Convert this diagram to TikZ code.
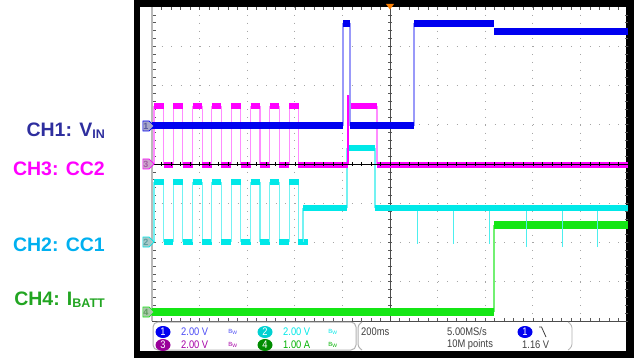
\documentclass[tikz,border=0pt]{standalone}
\usepackage{fontspec}
\setmainfont{Liberation Sans}
\newfontfamily\readfont[FakeStretch=0.85]{Liberation Sans}
\usetikzlibrary{shapes.geometric,shapes.symbols}
\definecolor{ch1}{RGB}{0,0,240}
\definecolor{ch2}{RGB}{0,232,232}
\definecolor{ch3}{RGB}{255,0,255}
\definecolor{ch4}{RGB}{20,230,20}
\definecolor{lab1}{RGB}{46,46,158}
\definecolor{lab2}{RGB}{0,176,240}
\definecolor{lab4}{RGB}{34,165,34}
\newcommand\lowidx[1]{\raisebox{-2pt}{\fontsize{12.5}{13}\selectfont #1}}
\tikzset{
  bandw/.style={line width=6.5pt},
  edgew/.style={line width=1.1pt},
  vdots/.style={gray!70,line width=0.8pt,dash pattern=on 0.8pt off 7.05pt},
  hdots/.style={gray!70,line width=0.8pt,dash pattern=on 0.8pt off 8.72pt},
  tick/.style={gray!70!black,line width=0.6pt},
  chlabel/.style={anchor=base east,inner sep=0,font=\fontsize{19.5}{20}\selectfont\bfseries},
  chtag/.style={signal,signal to=east,inner sep=0.6pt,minimum height=10pt,line width=0.7pt,font=\fontsize{9}{9}\selectfont\bfseries},
  chnum/.style={ellipse,minimum width=15pt,minimum height=12pt,inner sep=0,text=white,font=\readfont\fontsize{11}{11}\selectfont},
  readout/.style={anchor=west,inner sep=0,font=\readfont\fontsize{11}{11}\selectfont},
  bwicon/.style={inner sep=0,font=\fontsize{6}{6}\selectfont},
  panel/.style={gray!60,line width=1pt}
}
\begin{document}
\begin{tikzpicture}[x=1pt,y=-1pt,>=stealth]
\useasboundingbox (0,0) rectangle (634,358);
% screen
\fill[black] (134,0) rectangle (634,358);
\fill[white] (140,7) rectangle (626,351);
% grid
\foreach \i in {1,2,3,4,6,7,8,9}
  \draw[vdots] ({152+47.6*\i},7) -- ++(0,314);
\foreach \j in {1,2,3,5,6,7}
  \draw[hdots] (152,{7+39.25*\j}) -- ++(476,0);
\foreach \k in {1,...,49}{
  \draw[tick] ({152+9.52*\k},7) -- ++(0,3);
  \draw[tick] ({152+9.52*\k},321) -- ++(0,-3);
}
\foreach \k in {1,...,39}{
  \draw[tick] (388,{7+7.85*\k}) -- ++(4,0);
  \draw[tick] (153,{7+7.85*\k}) -- ++(3,0);
  \draw[tick] (628,{7+7.85*\k}) -- ++(-3,0);
}
\draw[gray!55,line width=2pt] (152,7) -- (152,321);
\draw[gray!60!black,line width=0.9pt] (390,7) -- (390,321);
\draw[gray!60!black,line width=0.9pt] (152,321) -- (628,321);
\fill[orange] (386,4) -- (394,4) -- (390,9.5) -- cycle;
% CH4
\draw[ch4!60,edgew] (494,312) -- (494,225);
\draw[ch4,line width=8.5pt] (152,312) -- (494,312) (494,225) -- (628,225);
% CH2
\foreach \n in {0,...,7}{
  \draw[ch2!55,edgew] ({154+19.3*\n},182) -- ++(0,60) ({163.5+19.3*\n},182) -- ++(0,60);
  \draw[ch2,bandw] ({154+19.3*\n},182) -- ++(9.5,0) ({163.5+19.3*\n},242) -- ++(9.8,0);
}
\draw[ch2!55,edgew] (303,242) -- (303,208) (347,208) -- (347,148) (375,148) -- (375,208);
\foreach \x/\d in {417/244,453/244,489/244,526/247,562/247,597/247}
  \draw[ch2!70,line width=0.9pt] (\x,208) -- (\x,\d);
\draw[ch2,bandw] (298,242) -- (303,242) (303,208) -- (347,208) (347,148) -- (375,148) (375,208) -- (628,208);
% CH3
\foreach \n in {0,...,7}{
  \draw[ch3!45,edgew] ({154+19.3*\n},106) -- ++(0,59) ({163.5+19.3*\n},106) -- ++(0,59);
  \draw[ch3,bandw] ({154+19.3*\n},106) -- ++(9.5,0) ({163.5+19.3*\n},165) -- ++(9.8,0);
}
\draw[ch3!45,edgew] (377,106) -- (377,165);
\draw[ch3,line width=2.5pt] (348,165) -- (348,95);
\draw[ch3,bandw] (298,165) -- (348,165) (349,106) -- (377,106) (377,165) -- (628,165);
\draw[black,line width=0.8pt] (152,164) -- (628,164);
\foreach \k in {1,...,49}
  \draw[black,line width=0.6pt] ({152+9.52*\k},162) -- ++(0,4);
% CH1
\draw[ch1!40,edgew] (343,126) -- (343,23) (350,23) -- (350,126) (414,126) -- (414,23);
\draw[ch1,line width=7pt] (152,126) -- (343,126) (343,23.5) -- (350,23.5) (350,126) -- (414,126) (414,23.5) -- (494,23.5) (494,31.5) -- (628,31.5);
% channel tags
\foreach \y/\c/\n in {126/ch1/1,164/ch3/3,242/ch2/2,312/ch4/4}
  \node[chtag,draw=\c,fill=\c!25!gray!55,text=\c!30!gray] (tag\n) at (146,\y) {\n};
% labels
\node[chlabel,text=lab1] (lab1) at (105,137) {CH1: V\lowidx{IN}};
\node[chlabel,text=ch3] (lab3) at (105,176) {CH3: CC2};
\node[chlabel,text=lab2] (lab2) at (105,251) {CH2: CC1};
\node[chlabel,text=lab4] (lab4) at (105,305) {CH4: I\lowidx{BATT}};
% readout
\draw[panel,rounded corners=5pt] (153,322) rectangle (356,350);
\draw[panel,rounded corners=3pt] (362,322) -- (358,325) -- (358,347) -- (362,350);
\draw[panel,line width=0.8pt,rounded corners=3pt] (568,322) -- (572,325) -- (572,347) -- (568,350);
\node[chnum,fill=ch1] (n1) at (163,332) {1};
\node[chnum,fill=ch3!60!black] (n3) at (163,345) {3};
\node[chnum,fill=ch2!90!black] (n2) at (265,332) {2};
\node[chnum,fill=green!55!black] (n4) at (265,345) {4};
\node[readout,text=ch1!70] (v1) at (181,332) {2.00 V};
\node[readout,text=ch3!65!black] (v3) at (181,345) {2.00 V};
\node[readout,text=ch2] (v2) at (283,332) {2.00 V};
\node[readout,text=green!70!black] (v4) at (283,345) {1.00 A};
\node[bwicon,text=ch1!70] (bw1) at (233,332) {B\textsubscript{W}};
\node[bwicon,text=ch3!65!black] (bw3) at (233,345) {B\textsubscript{W}};
\node[bwicon,text=ch2] (bw2) at (333,332) {B\textsubscript{W}};
\node[bwicon,text=green!70!black] (bw4) at (333,345) {B\textsubscript{W}};
\node[readout,text=black!75] (tb) at (361,332) {200ms};
\node[readout,text=black!75] (sr) at (447,332) {5.00MS/s};
\node[readout,text=black!75] (pts) at (447,345) {10M points};
\node[chnum,fill=ch1] (trg) at (525,332) {1};
\draw[black!75,line width=0.8pt] (539,327) -- (541.5,327) -- (546,337);
\node[readout,text=black!75] (lvl) at (522,345) {1.16 V};
\end{tikzpicture}
\end{document}
